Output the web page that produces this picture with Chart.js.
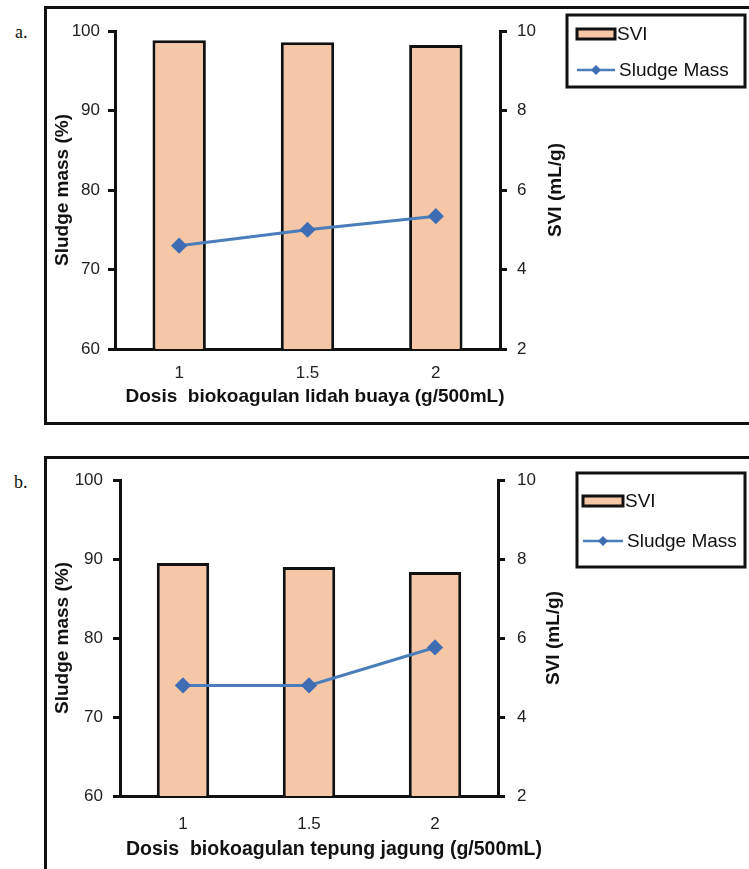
<!DOCTYPE html>
<html>
<head>
<meta charset="utf-8">
<script src="https://cdn.jsdelivr.net/npm/chart.js@4.4.1/dist/chart.umd.min.js"></script>
<style>
html, body { margin: 0; padding: 0; background: #fff; width: 749px; height: 869px; overflow: hidden; }
.frame { position: absolute; border: 3px solid #111; }
.tag { position: absolute; font-family: 'Liberation Serif', 'DejaVu Serif', serif; font-size: 18px; color: #111; }
canvas { position: absolute; left: 0; }
</style>
</head>
<body>
<div class="frame" style="left:44px; top:6px; width:740px; height:413px;"></div>
<div class="tag" style="left:15px; top:22px;">a.</div>
<div class="frame" style="left:44px; top:456px; width:740px; height:450px;"></div>
<div class="tag" style="left:14px; top:472px;">b.</div>
<canvas id="chartA" width="749" height="430" style="top:0px"></canvas>
<canvas id="chartB" width="749" height="429" style="top:440px"></canvas>

<script>
// dose of biocoagulant (g/500mL)
const doses = ['1', '1.5', '2'];

// a. lidah buaya (aloe vera)
const sviAloe = [9.77, 9.72, 9.65];
const massAloe = [73.0, 75.0, 76.7];

// b. tepung jagung (corn starch)
const sviCorn = [7.90, 7.80, 7.67];
const massCorn = [74.0, 74.0, 78.8];

const massTicks = [60, 70, 80, 90, 100];
const sviTicks = [2, 4, 6, 8, 10];

const FONT = "'Liberation Sans', Arial, sans-serif";
const BAR_FILL = '#F6C7A6';
const LINE_BLUE = '#4A7EBB';
const INK = '#111';

// axis titles that chart.js can't place the way excel did:
// right one reads bottom-to-top, bottom one is a bit off centre
const extraTitles = {
  id: 'extraTitles',
  afterDraw(chart, args, opts) {
    const ctx = chart.ctx;
    const area = chart.chartArea;
    ctx.save();
    ctx.fillStyle = INK;
    ctx.textAlign = 'center';
    ctx.textBaseline = 'middle';

    ctx.font = 'bold ' + opts.xSize + 'px ' + FONT;
    ctx.fillText(opts.xText, opts.xCenter, opts.xY);

    ctx.translate(opts.rightX, (area.top + area.bottom) / 2);
    ctx.rotate(-Math.PI / 2);
    ctx.font = 'bold 19px ' + FONT;
    ctx.fillText(opts.rightText, 0, 0);
    ctx.restore();
  }
};

// excel style legend with a frame round it
const boxLegend = {
  id: 'boxLegend',
  afterDraw(chart, args, o) {
    const ctx = chart.ctx;
    const bar = chart.data.datasets.find(d => d.type === 'bar');
    const line = chart.data.datasets.find(d => d.type === 'line');
    ctx.save();
    ctx.lineWidth = 3;
    ctx.strokeStyle = INK;
    ctx.strokeRect(o.x, o.y, o.w, o.h);

    // bar swatch
    ctx.fillStyle = bar.backgroundColor;
    ctx.fillRect(o.sx, o.row1 - 5, o.sw, 10);
    ctx.lineWidth = 3;
    ctx.strokeStyle = INK;
    ctx.strokeRect(o.sx, o.row1 - 5, o.sw, 10);

    // line swatch
    ctx.strokeStyle = line.borderColor;
    ctx.lineWidth = 2.5;
    ctx.beginPath();
    ctx.moveTo(o.sx, o.row2);
    ctx.lineTo(o.sx + o.sw, o.row2);
    ctx.stroke();
    const cx = o.sx + o.sw / 2;
    ctx.fillStyle = line.pointBackgroundColor;
    ctx.beginPath();
    ctx.moveTo(cx, o.row2 - 5);
    ctx.lineTo(cx + 5, o.row2);
    ctx.lineTo(cx, o.row2 + 5);
    ctx.lineTo(cx - 5, o.row2);
    ctx.closePath();
    ctx.fill();

    ctx.font = '19px ' + FONT;
    ctx.fillStyle = INK;
    ctx.textAlign = 'left';
    ctx.textBaseline = 'middle';
    ctx.fillText(bar.label, o.sx + o.sw + 2, o.row1 + 1);
    ctx.fillText(line.label, o.sx + o.sw + 4, o.row2 + 1);
    ctx.restore();
  }
};

function makeChart(id, svi, mass, xTitle, lay) {
  const ctx = document.getElementById(id);
  const W = ctx.width, H = ctx.height;
  return new Chart(ctx, {
    data: {
      labels: doses,
      datasets: [
        {
          type: 'line',
          label: 'Sludge Mass',
          data: mass,
          yAxisID: 'y',
          order: 0,
          borderColor: LINE_BLUE,
          borderWidth: 3,
          pointStyle: 'rectRot',
          pointRadius: 6,
          pointBackgroundColor: '#3F6DB3',
          pointBorderColor: '#3F6DB3',
          tension: 0
        },
        {
          type: 'bar',
          label: 'SVI',
          data: svi,
          yAxisID: 'y1',
          order: 1,
          backgroundColor: BAR_FILL,
          borderColor: INK,
          borderWidth: 3,
          categoryPercentage: 0.8,
          barPercentage: 0.52
        }
      ]
    },
    options: {
      responsive: false,
      animation: false,
      layout: { padding: { top: lay.top, left: 0, right: 0, bottom: 0 } },
      plugins: {
        legend: { display: false },
        tooltip: { enabled: false },
        extraTitles: {
          xText: xTitle, xCenter: lay.xTitleX, xY: lay.xTitleY, xSize: lay.xTitleSize,
          rightText: 'SVI (mL/g)', rightX: lay.rightTitleX
        },
        boxLegend: lay.legend
      },
      scales: {
        x: {
          grid: { display: false },
          border: { display: true, color: INK, width: 3 },
          ticks: { color: '#222', font: { family: FONT, size: 17 }, padding: lay.xTickPad },
          afterFit: s => { s.height = H - lay.bottom; }
        },
        y: {
          position: 'left',
          min: massTicks[0], max: massTicks[massTicks.length - 1],
          afterBuildTicks: s => { s.ticks = massTicks.map(v => ({ value: v })); },
          grid: { display: true, drawOnChartArea: false, drawTicks: true, tickLength: 7, color: INK, lineWidth: 3 },
          border: { display: true, color: INK, width: 3 },
          ticks: { color: '#222', font: { family: FONT, size: 17 }, padding: lay.yTickPad },
          title: {
            display: true, text: 'Sludge mass (%)', color: INK,
            font: { family: FONT, size: 19, weight: 'bold' },
            padding: { top: lay.yTitlePad, bottom: 0 }
          },
          afterFit: s => { s.width = lay.left; }
        },
        y1: {
          position: 'right',
          min: sviTicks[0], max: sviTicks[sviTicks.length - 1],
          afterBuildTicks: s => { s.ticks = sviTicks.map(v => ({ value: v })); },
          grid: { display: true, drawOnChartArea: false, drawTicks: true, tickLength: 7, color: INK, lineWidth: 3 },
          border: { display: true, color: INK, width: 3 },
          ticks: { color: '#222', font: { family: FONT, size: 17 }, padding: lay.y1TickPad },
          afterFit: s => { s.width = W - lay.right; }
        }
      }
    },
    plugins: [extraTitles, boxLegend]
  });
}

makeChart('chartA', sviAloe, massAloe, 'Dosis  biokoagulan lidah buaya (g/500mL)', {
  top: 31, bottom: 349, left: 115, right: 500,
  xTickPad: 6, yTickPad: 8, yTitlePad: 51, y1TickPad: 10,
  xTitleX: 315, xTitleY: 397, xTitleSize: 19,
  rightTitleX: 556,
  legend: { x: 567, y: 15, w: 178, h: 72, sx: 577, sw: 38, row1: 34, row2: 70 }
});

makeChart('chartB', sviCorn, massCorn, 'Dosis  biokoagulan tepung jagung (g/500mL)', {
  top: 40, bottom: 356, left: 120, right: 498,
  xTickPad: 10, yTickPad: 10, yTitlePad: 51, y1TickPad: 12,
  xTitleX: 334, xTitleY: 410, xTitleSize: 19.5,
  rightTitleX: 554,
  legend: { x: 577, y: 33, w: 168, h: 94, sx: 583, sw: 40, row1: 61, row2: 101 }
});
</script>
</body>
</html>
